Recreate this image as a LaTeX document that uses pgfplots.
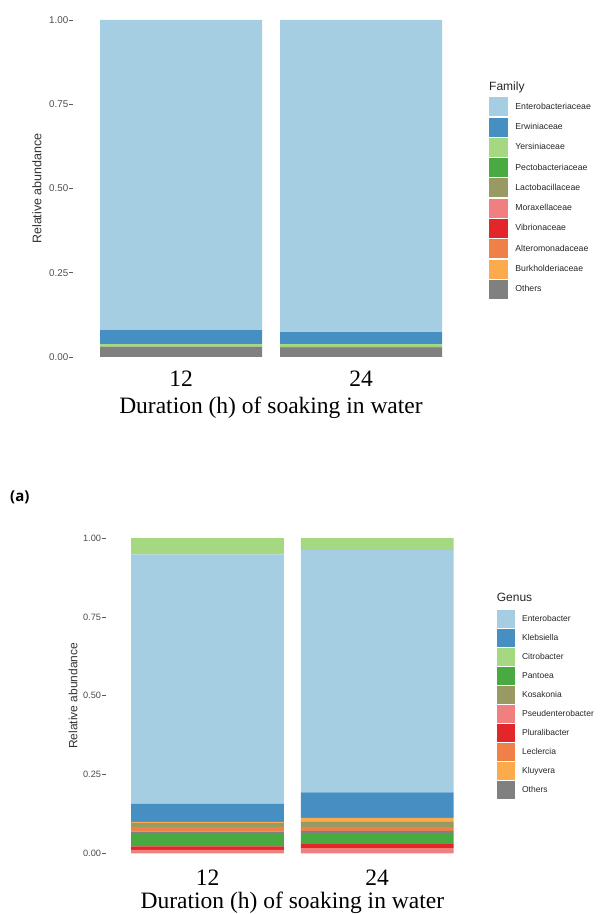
\documentclass[border=0pt]{standalone}
\usepackage{fontspec}
\setmainfont{Liberation Serif}
\setsansfont{Liberation Sans}
\newfontfamily\tagfont{Open Sans}
\usepackage{pgfplots}
\pgfplotsset{compat=1.18}

% palette
\definecolor{cA}{HTML}{A6CEE3}
\definecolor{cB}{HTML}{468FC2}
\definecolor{cC}{HTML}{A6D881}
\definecolor{cD}{HTML}{4AAA42}
\definecolor{cE}{HTML}{999963}
\definecolor{cF}{HTML}{F08080}
\definecolor{cG}{HTML}{E2262A}
\definecolor{cH}{HTML}{EF8048}
\definecolor{cI}{HTML}{FBAA4C}
\definecolor{cJ}{HTML}{808080}

\pgfplotsset{
  relab/.style={
    scale only axis, anchor=south west, clip=false,
    ybar stacked, bar width=0.9,
    xmin=-0.6, xmax=1.6, ymin=-0.05, ymax=1.05,
    axis line style={draw=none},
    xtick={0,1}, xticklabels={12,24},
    ytick={0,0.25,0.5,0.75,1},
    yticklabels={0.00,0.25,0.50,0.75,1.00},
    /pgf/number format/assume math mode=true,
    ytick pos=left, tick align=outside, major tick length=3.5pt,
    xtick style={draw=none},
    ytick style={draw=black!65, line width=0.75pt},
    yticklabel style={font=\sffamily\fontsize{9.8}{10}\selectfont, text=black!70, inner sep=1pt},
    xticklabel style={font=\rmfamily\fontsize{23.5}{24}\selectfont, anchor=base},
    ylabel={Relative abundance},
    xlabel={Duration (h) of soaking in water},
    xlabel style={font=\rmfamily\fontsize{23.5}{24}\selectfont, anchor=base},
    ylabel style={font=\sffamily\fontsize{12.5}{13}\selectfont, text=black!80, anchor=center},
    legend cell align=left,
    legend style={draw=none, fill=none, anchor=north west, inner sep=0pt,
      font=\sffamily\fontsize{8.7}{9}\selectfont, text=black!85,
      nodes={inner sep=0pt}},
  },
}

\begin{document}
\begin{tikzpicture}
\path[use as bounding box] (0,0) rectangle (605pt,914pt);

% family level
\begin{axis}[relab,
  at={(73pt,540.15pt)}, width=396pt, height=370.7pt,
  xticklabel style={yshift=-9pt},
  xlabel style={at={(axis description cs:0.5,-0.1083)}},
  ylabel style={at={(axis description cs:-0.0909,0.5)}},
  legend style={at={(axis description cs:1.0505,0.7468)}, row sep=1.3pt},
  legend image code/.code={\fill[#1, draw=none] (0pt,-9.5pt) rectangle (19pt,9.5pt); \path (26pt,0pt);},
  ]
\addplot[fill=cJ, draw=none, forget plot] coordinates {(0,0.030) (1,0.026)};
\addplot[fill=cE, draw=none, forget plot] coordinates {(0,0.001) (1,0.004)};
\addplot[fill=cC, draw=none, forget plot] coordinates {(0,0.007) (1,0.008)};
\addplot[fill=cB, draw=none, forget plot] coordinates {(0,0.042) (1,0.036)};
\addplot[fill=cA, draw=none, forget plot] coordinates {(0,0.920) (1,0.926)};
\addlegendimage{fill=cA}\addlegendentry{Enterobacteriaceae}
\addlegendimage{fill=cB}\addlegendentry{Erwiniaceae}
\addlegendimage{fill=cC}\addlegendentry{Yersiniaceae}
\addlegendimage{fill=cD}\addlegendentry{Pectobacteriaceae}
\addlegendimage{fill=cE}\addlegendentry{Lactobacillaceae}
\addlegendimage{fill=cF}\addlegendentry{Moraxellaceae}
\addlegendimage{fill=cG}\addlegendentry{Vibrionaceae}
\addlegendimage{fill=cH}\addlegendentry{Alteromonadaceae}
\addlegendimage{fill=cI}\addlegendentry{Burkholderiaceae}
\addlegendimage{fill=cJ}\addlegendentry{Others}
\node[anchor=base west, inner sep=0pt, font=\sffamily\fontsize{12}{12}\selectfont, text=black!85]
  at (axis description cs:1.0505,0.7638) {Family};
\end{axis}

\node[anchor=base west, inner sep=0pt, font=\tagfont\bfseries\fontsize{15}{15}\selectfont]
  at (10pt,412pt) {(a)};

% genus level
\begin{axis}[relab,
  at={(105.7pt,45pt)}, width=373.3pt, height=346.5pt,
  xticklabel style={yshift=-12.7pt},
  xlabel style={at={(axis description cs:0.5,-0.1126)}},
  ylabel style={at={(axis description cs:-0.0876,0.5)}, font=\sffamily\fontsize{12}{13}\selectfont},
  yticklabel style={font=\sffamily\fontsize{9.2}{10}\selectfont},
  legend style={at={(axis description cs:1.0482,0.7475)}, row sep=1pt,
    font=\sffamily\fontsize{8.5}{9}\selectfont},
  legend image code/.code={\fill[#1, draw=none] (0pt,-9pt) rectangle (18pt,9pt); \path (24.7pt,0pt);},
  ]
\addplot[fill=cF, draw=none, forget plot] coordinates {(0,0.011) (1,0.016)};
\addplot[fill=cG, draw=none, forget plot] coordinates {(0,0.011) (1,0.013)};
\addplot[fill=cD, draw=none, forget plot] coordinates {(0,0.039) (1,0.035)};
\addplot[fill=cJ, draw=none, forget plot] coordinates {(0,0.008) (1,0.007)};
\addplot[fill=cH, draw=none, forget plot] coordinates {(0,0.014) (1,0.012)};
\addplot[fill=cE, draw=none, forget plot] coordinates {(0,0.013) (1,0.018)};
\addplot[fill=cI, draw=none, forget plot] coordinates {(0,0.004) (1,0.011)};
\addplot[fill=cB, draw=none, forget plot] coordinates {(0,0.057) (1,0.081)};
\addplot[fill=cA, draw=none, forget plot] coordinates {(0,0.792) (1,0.770)};
\addplot[fill=cC, draw=none, forget plot] coordinates {(0,0.051) (1,0.037)};
\addlegendimage{fill=cA}\addlegendentry{Enterobacter}
\addlegendimage{fill=cB}\addlegendentry{Klebsiella}
\addlegendimage{fill=cC}\addlegendentry{Citrobacter}
\addlegendimage{fill=cD}\addlegendentry{Pantoea}
\addlegendimage{fill=cE}\addlegendentry{Kosakonia}
\addlegendimage{fill=cF}\addlegendentry{Pseudenterobacter}
\addlegendimage{fill=cG}\addlegendentry{Pluralibacter}
\addlegendimage{fill=cH}\addlegendentry{Leclercia}
\addlegendimage{fill=cI}\addlegendentry{Kluyvera}
\addlegendimage{fill=cJ}\addlegendentry{Others}
\node[anchor=base west, inner sep=0pt, font=\sffamily\fontsize{12}{12}\selectfont, text=black!85]
  at (axis description cs:1.0474,0.7706) {Genus};
\end{axis}
\end{tikzpicture}
\end{document}
